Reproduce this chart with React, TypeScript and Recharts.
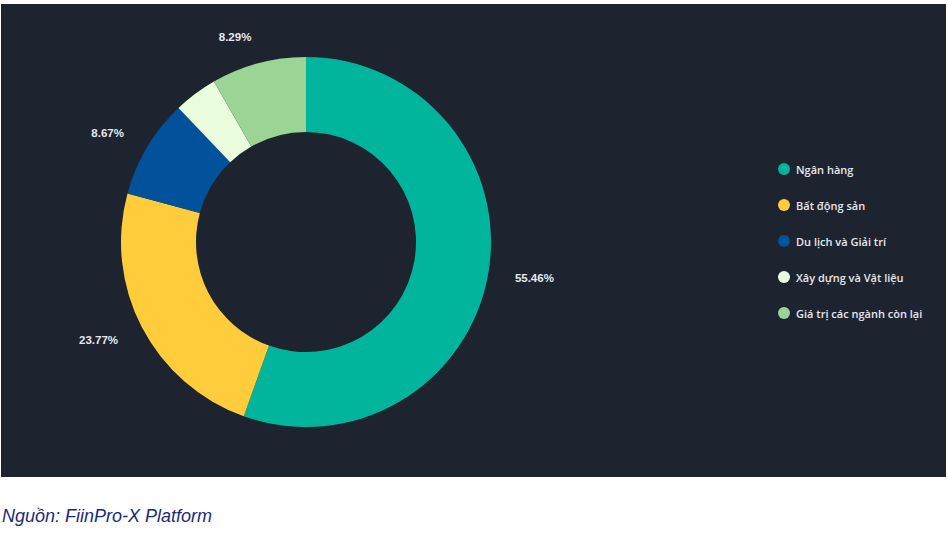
import { PieChart, Pie, Cell, Legend } from "recharts";

const SECTORS = [
  "Ngân hàng",
  "Bất động sản",
  "Du lịch và Giải trí",
  "Xây dựng và Vật liệu",
  "Giá trị các ngành còn lại",
];
const SHARES = [55.46, 23.77, 8.67, 3.81, 8.29];
const COLORS = ["#00b59c", "#ffcd3c", "#02529b", "#e9fcdc", "#9bd494"];

const BG = "#1e2330";
const RADIAN = Math.PI / 180;

const data = SECTORS.map((name, i) => ({ name, value: SHARES[i] }));

// label outside the ring, anchored by side; small slices get none
function renderLabel(props: any) {
  const { cx, cy, midAngle, outerRadius, value } = props;
  if (value < 5) return null;
  const r = outerRadius + 27;
  const x = cx + r * Math.cos(-midAngle * RADIAN);
  const y = cy + r * Math.sin(-midAngle * RADIAN);
  return (
    <text
      x={x}
      y={y}
      fill="#e6e8ec"
      fontSize={11.5}
      fontWeight={700}
      fontFamily="'Liberation Sans', Arial, sans-serif"
      textAnchor={x > cx ? "start" : "end"}
      dominantBaseline="central"
    >
      {value.toFixed(2)}%
    </text>
  );
}

function LegendList() {
  return (
    <div>
      {SECTORS.map((name, i) => (
        <div
          key={name}
          style={{ display: "flex", alignItems: "center", height: 36 }}
        >
          <span
            style={{
              width: 12,
              height: 12,
              borderRadius: 6,
              background: COLORS[i],
              marginRight: 6,
            }}
          />
          <span
            style={{
              color: "#e6e8ec",
              fontSize: 11,
              fontFamily: "'Open Sans', sans-serif",
              fontWeight: 600,
            }}
          >
            {name}
          </span>
        </div>
      ))}
    </div>
  );
}

export default function App() {
  return (
    <div
      style={{
        position: "absolute",
        top: 0,
        left: 0,
        width: 948,
        height: 537,
        background: "#fff",
      }}
    >
      <div style={{ position: "absolute", left: 1, top: 4, background: BG }}>
        <PieChart width={945} height={473}>
          <Pie
            data={data}
            dataKey="value"
            nameKey="name"
            cx={300}
            cy={233}
            innerRadius={110}
            outerRadius={185}
            startAngle={90}
            endAngle={-270}
            stroke="none"
            label={renderLabel}
            labelLine={false}
            isAnimationActive={false}
          >
            {data.map((d, i) => (
              <Cell key={d.name} fill={COLORS[i]} />
            ))}
          </Pie>
          <Legend
            content={<LegendList />}
            layout="vertical"
            wrapperStyle={{ left: 777, top: 147, width: 170 }}
          />
        </PieChart>
      </div>
      <div
        style={{
          position: "absolute",
          left: 2,
          top: 506,
          fontFamily: "'Liberation Sans', Arial, sans-serif",
          fontStyle: "italic",
          fontSize: 18,
          color: "#1b2a7c",
        }}
      >
        Nguồn: FiinPro-X Platform
      </div>
    </div>
  );
}
